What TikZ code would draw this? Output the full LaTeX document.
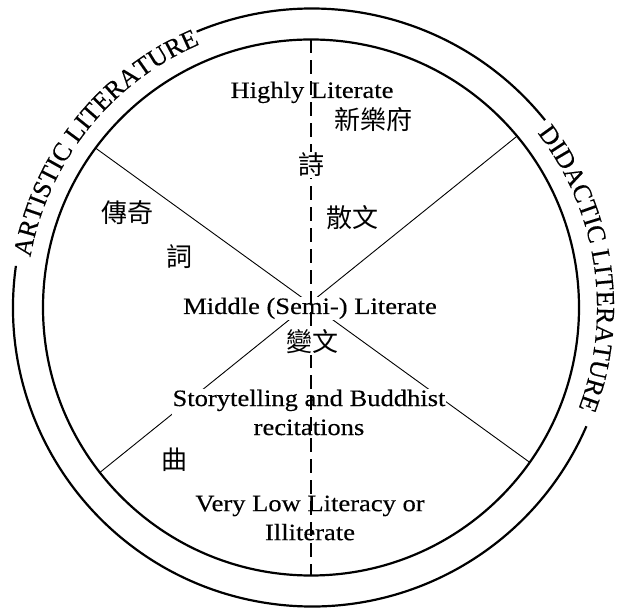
\documentclass[tikz,border=0pt]{standalone}
\usepackage{fontspec}
\setmainfont{Liberation Serif}[FakeStretch=1.13, FakeBold=0.3]
\newfontfamily\arcfam{Liberation Serif}[FakeBold=0.3]
\newfontfamily\cjkfont{Noto Sans CJK TC}
\usetikzlibrary{decorations.text}
\newcommand\arcfont{\arcfam\fontsize{26}{26}\selectfont}
\begin{document}
\begin{tikzpicture}[x=1pt,y=1pt,
  lbl/.style={font=\fontsize{23.5}{29}\selectfont, fill=white, inner sep=1pt, align=center},
  zh/.style={font=\cjkfont\fontsize{26}{28}\selectfont, fill=white, inner sep=1pt},
  ring/.style={line width=2.2pt},
  spoke/.style={line width=0.9pt},
  axisline/.style={line width=1.1pt, dash pattern=on 14pt off 7pt}]
\useasboundingbox (0,0) rectangle (620,609);
\coordinate (oc) at (312,301.5);
\coordinate (ic) at (311,301.5);
% rings
\draw[ring] (ic) circle[radius=268];
\draw[ring] (oc) ++(38.8:299) arc[start angle=38.8, end angle=112.7, radius=299];
\draw[ring] (oc) ++(172:299) arc[start angle=172, end angle=336.6, radius=299];
% arc texts
\path[decorate, decoration={text along path, text align=center,
  text={|\arcfont|ARTISTIC LITERATURE}}]
  (oc) ++(172:286) arc[start angle=172, end angle=111, radius=286];
\path[decorate, decoration={text along path, text align=center,
  text={|\arcfont|DIDACTIC LITERATURE}}]
  (oc) ++(39:285) arc[start angle=39, end angle=-22, radius=285];
% spokes
\path (ic) ++(143.5:268) coordinate (s1a);
\path (ic) ++(-35.3:268) coordinate (s1b);
\path (ic) ++(39.75:268) coordinate (s2a);
\path (ic) ++(218:268) coordinate (s2b);
\path (ic) ++(90:268) coordinate (top);
\path (ic) ++(-90:268) coordinate (bot);
\draw[spoke] (s1a) -- (s1b);
\draw[spoke] (s2a) -- (s2b);
% English labels
\node[lbl, fill=none, anchor=base] (hl) at (312,511) {Highly Literate};
\node[lbl, anchor=base] (ml) at (310,295) {Middle (Semi-) Literate};
\node[lbl] (st) at (309,196.5) {Storytelling and Buddhist\\recitations};
\node[lbl, fill=none] (vl) at (310,91) {Very Low Literacy or\\Illiterate};
% dashed axis
\draw[axisline] (top) -- (bot);
% Chinese labels
\node[zh, fill=none] (xyf) at (373,489) {新樂府};
\node[zh] (shi) at (311,444) {詩};
\node[zh, fill=none] (sw) at (352,391) {散文};
\node[zh, fill=none] (cq) at (127,396) {傳奇};
\node[zh, fill=none] (ci) at (179,352) {詞};
\node[zh] (bw) at (312,267) {變文};
\node[zh, fill=none] (qu) at (174,149) {曲};
\end{tikzpicture}
\end{document}
